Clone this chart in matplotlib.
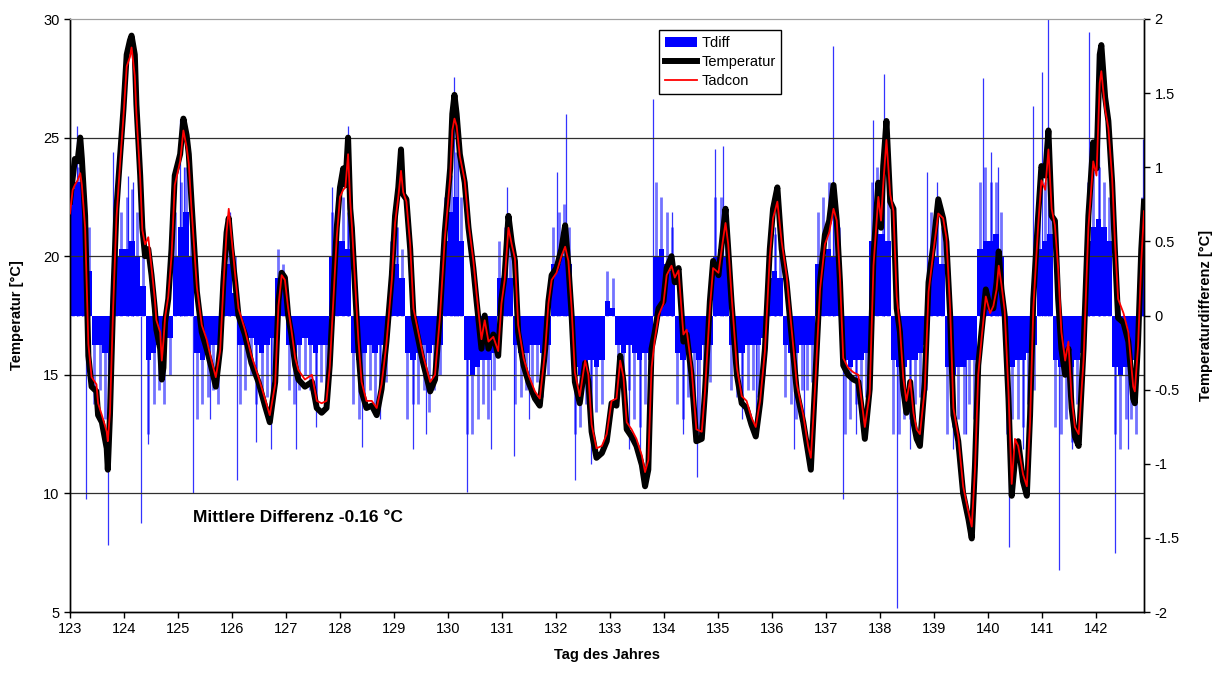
import matplotlib
matplotlib.use("Agg")
import matplotlib.pyplot as plt
from matplotlib.patches import Patch
from matplotlib.lines import Line2D

plt.rcParams['font.family'] = ['Liberation Sans', 'DejaVu Sans']
plt.rcParams['axes.unicode_minus'] = False

# Tag des Jahres / Temperatur (schwarz) / Tadcon (rot)
days = [123.00, 123.05, 123.09, 123.14, 123.19, 123.22, 123.28, 123.34, 123.40, 123.49,
        123.52, 123.59, 123.68, 123.70, 123.74, 123.80, 123.86, 123.93, 123.99, 124.05,
        124.11, 124.14, 124.20, 124.23, 124.30, 124.34, 124.39, 124.45, 124.51, 124.57,
        124.60, 124.67, 124.70, 124.73, 124.76, 124.82, 124.88, 124.94, 125.04, 125.10,
        125.16, 125.20, 125.25, 125.35, 125.44, 125.53, 125.62, 125.70, 125.78, 125.84,
        125.90, 125.94, 125.99, 126.06, 126.12, 126.24, 126.36, 126.49, 126.61, 126.70,
        126.80, 126.86, 126.92, 126.98, 127.04, 127.10, 127.17, 127.23, 127.35, 127.48,
        127.57, 127.66, 127.75, 127.81, 127.88, 127.94, 128.00, 128.06, 128.10, 128.15,
        128.19, 128.22, 128.28, 128.34, 128.40, 128.49, 128.59, 128.68, 128.77, 128.86,
        128.96, 129.02, 129.08, 129.13, 129.17, 129.23, 129.30, 129.36, 129.45, 129.54,
        129.67, 129.76, 129.85, 129.94, 130.04, 130.08, 130.12, 130.16, 130.22, 130.31,
        130.38, 130.47, 130.53, 130.62, 130.68, 130.75, 130.84, 130.93, 130.99, 131.05,
        131.12, 131.18, 131.24, 131.30, 131.40, 131.49, 131.61, 131.70, 131.80, 131.86,
        131.92, 132.01, 132.10, 132.17, 132.23, 132.29, 132.35, 132.44, 132.54, 132.60,
        132.66, 132.75, 132.85, 132.94, 133.03, 133.12, 133.19, 133.25, 133.31, 133.40,
        133.49, 133.59, 133.65, 133.71, 133.77, 133.83, 133.90, 133.99, 134.05, 134.14,
        134.20, 134.27, 134.36, 134.42, 134.51, 134.60, 134.70, 134.76, 134.85, 134.91,
        135.01, 135.10, 135.14, 135.19, 135.25, 135.35, 135.44, 135.53, 135.62, 135.70,
        135.78, 135.87, 135.96, 136.02, 136.10, 136.18, 136.27, 136.36, 136.46, 136.58,
        136.67, 136.72, 136.80, 136.89, 136.98, 137.06, 137.14, 137.20, 137.26, 137.32,
        137.41, 137.51, 137.60, 137.66, 137.72, 137.81, 137.88, 137.97, 138.02, 138.06,
        138.12, 138.19, 138.25, 138.31, 138.37, 138.43, 138.49, 138.56, 138.62, 138.68,
        138.74, 138.83, 138.90, 138.99, 139.08, 139.17, 139.23, 139.30, 139.36, 139.45,
        139.54, 139.64, 139.70, 139.76, 139.82, 139.88, 139.96, 140.04, 140.10, 140.16,
        140.20, 140.25, 140.31, 140.38, 140.44, 140.50, 140.56, 140.65, 140.72, 140.78,
        140.84, 140.93, 140.99, 141.06, 141.12, 141.18, 141.24, 141.30, 141.36, 141.43,
        141.49, 141.55, 141.61, 141.68, 141.77, 141.86, 141.95, 142.01, 142.07, 142.10,
        142.17, 142.23, 142.30, 142.35, 142.41, 142.51, 142.60, 142.69, 142.72, 142.78,
        142.84, 142.89]

temperatur = [22.3, 23.3, 24.1, 24.0, 25.0, 24.1, 21.7, 15.8, 14.5, 14.3,
              13.3, 13.0, 11.9, 11.0, 13.3, 18.2, 22.0, 24.3, 26.2, 28.5,
              29.1, 29.3, 28.5, 26.4, 23.4, 21.2, 20.0, 20.3, 19.2, 17.8,
              16.9, 16.1, 14.8, 15.3, 17.2, 18.2, 20.3, 23.4, 24.3, 25.8,
              25.1, 24.3, 22.3, 18.5, 16.8, 16.1, 15.3, 14.5, 16.1, 18.9,
              21.0, 21.6, 20.3, 18.9, 17.5, 16.7, 15.5, 14.7, 13.7, 13.0,
              14.7, 18.1, 19.3, 19.1, 17.5, 16.7, 15.4, 14.8, 14.5, 14.7,
              13.6, 13.4, 13.6, 15.4, 18.6, 21.2, 22.9, 23.7, 23.0, 25.0,
              22.0, 21.2, 18.6, 16.1, 14.3, 13.6, 13.7, 13.3, 14.4, 16.4,
              19.2, 21.7, 22.9, 24.5, 22.6, 22.4, 20.3, 17.5, 16.5, 15.5,
              14.3, 14.8, 17.5, 21.0, 23.7, 26.0, 26.8, 26.0, 24.3, 23.1,
              21.2, 19.5, 18.1, 16.1, 17.5, 16.1, 16.7, 15.8, 18.2, 19.2,
              21.7, 20.6, 19.8, 16.8, 15.4, 14.7, 14.0, 13.7, 16.1, 18.1,
              19.2, 19.5, 20.3, 21.3, 19.6, 17.5, 14.7, 13.8, 15.5, 14.7,
              12.6, 11.5, 11.7, 12.2, 13.8, 13.7, 15.8, 14.7, 12.7, 12.4,
              12.0, 11.2, 10.3, 11.0, 16.1, 16.8, 17.8, 18.1, 19.5, 20.0,
              18.9, 19.5, 16.4, 16.7, 15.0, 12.2, 12.3, 14.3, 18.1, 19.8,
              19.2, 21.2, 22.0, 20.3, 18.1, 15.0, 13.8, 13.6, 12.9, 12.4,
              13.8, 16.1, 20.3, 22.0, 22.9, 20.3, 18.9, 16.7, 14.3, 13.0,
              11.7, 11.0, 14.7, 18.9, 20.9, 21.5, 23.0, 21.5, 18.9, 15.4,
              15.0, 14.8, 14.7, 13.6, 12.3, 14.4, 20.0, 23.1, 21.2, 23.8,
              25.7, 22.3, 22.0, 17.8, 16.8, 14.4, 13.4, 14.7, 13.0, 12.3,
              12.0, 14.7, 18.9, 20.5, 22.4, 21.6, 20.6, 17.5, 13.3, 12.2,
              10.0, 8.9, 8.1, 11.2, 15.4, 16.8, 18.6, 17.8, 17.8, 18.9,
              20.2, 18.6, 17.5, 14.0, 9.9, 11.4, 12.2, 10.5, 9.9, 13.3,
              18.2, 21.7, 23.8, 23.4, 25.3, 21.7, 21.5, 18.2, 16.1, 15.0,
              16.1, 13.6, 12.4, 12.0, 16.1, 21.7, 24.8, 23.7, 28.5, 28.9,
              26.7, 25.7, 23.1, 20.3, 17.4, 17.2, 16.4, 14.0, 13.8, 16.4,
              20.3, 22.3]

tadcon = [21.8, 22.8, 23.0, 23.2, 23.5, 23.0, 21.2, 16.3, 14.9, 14.6,
          13.8, 13.3, 12.6, 12.2, 13.4, 17.9, 21.6, 24.0, 25.9, 28.0,
          28.4, 28.8, 27.6, 26.0, 23.3, 21.1, 20.5, 20.8, 19.5, 18.2,
          17.3, 16.8, 15.6, 16.4, 17.4, 18.3, 20.0, 23.0, 24.0, 25.3,
          24.6, 23.9, 22.0, 18.7, 17.1, 16.5, 15.6, 14.9, 16.0, 18.7,
          21.0, 22.0, 20.8, 19.2, 17.8, 16.9, 15.8, 14.9, 14.0, 13.3,
          14.6, 17.9, 19.2, 19.0, 17.8, 16.9, 15.7, 15.2, 14.8, 15.0,
          13.9, 13.8, 13.9, 15.3, 18.3, 20.8, 22.5, 22.8, 22.9, 24.3,
          22.3, 21.3, 18.9, 16.5, 14.7, 13.9, 13.9, 13.6, 14.6, 16.3,
          19.0, 21.4, 22.5, 23.6, 22.7, 22.3, 20.5, 17.8, 16.8, 15.8,
          14.7, 15.0, 17.4, 20.7, 23.3, 25.3, 25.8, 25.5, 24.2, 23.2,
          21.4, 19.8, 18.4, 16.5, 17.3, 16.4, 16.6, 16.0, 18.0, 19.0,
          21.2, 20.5, 19.9, 17.1, 15.7, 15.0, 14.3, 14.0, 16.0, 18.0,
          19.0, 19.3, 20.0, 20.4, 19.8, 17.8, 15.1, 14.1, 15.6, 15.0,
          12.9, 11.9, 12.0, 12.5, 13.9, 14.0, 15.6, 14.9, 13.0, 12.7,
          12.3, 11.6, 10.9, 11.4, 15.3, 16.5, 17.5, 18.0, 19.2, 19.6,
          19.1, 19.4, 16.7, 16.9, 15.3, 12.7, 12.6, 14.3, 17.8, 19.5,
          19.3, 20.8, 21.4, 20.5, 18.4, 15.3, 14.1, 13.9, 13.2, 12.8,
          13.9, 16.0, 20.0, 21.6, 22.3, 20.6, 19.2, 17.0, 14.6, 13.3,
          12.0, 11.5, 14.5, 18.6, 20.5, 21.0, 22.0, 21.5, 19.1, 15.7,
          15.3, 15.1, 15.0, 13.9, 12.8, 14.2, 19.6, 22.5, 21.5, 23.0,
          24.9, 22.6, 21.9, 18.3, 17.0, 14.9, 13.9, 14.8, 13.4, 12.7,
          12.5, 14.4, 18.5, 20.2, 21.8, 21.6, 20.8, 17.8, 13.6, 12.4,
          10.3, 9.2, 8.6, 11.0, 15.0, 16.5, 18.3, 17.6, 17.9, 18.6,
          19.6, 18.8, 17.7, 14.3, 10.4, 12.3, 12.0, 10.8, 10.3, 13.0,
          17.8, 21.3, 23.2, 22.8, 24.5, 22.0, 21.3, 19.5, 16.8, 15.6,
          16.4, 14.0, 12.8, 12.5, 15.6, 21.2, 24.0, 23.4, 27.3, 27.8,
          26.2, 25.4, 23.3, 20.7, 18.2, 17.6, 16.8, 14.5, 14.3, 16.2,
          19.8, 21.9]

# Tdiff: Grundniveau und Spitzen je 0.1 Tag (ab Tag 123.0)
tdiff_start = [123.0 + 0.1 * i for i in range(199)]
tdiff_base = [0.85, 0.9, 0.8, 0.3, -0.2, -0.2, -0.25, -0.3, 0.4, 0.45,
              0.45, 0.5, 0.4, 0.2, -0.3, -0.25, -0.2, -0.2, -0.15, 0.4,
              0.6, 0.7, 0.4, -0.25, -0.3, -0.25, -0.2, -0.2, 0.3, 0.35,
              0.15, -0.2, -0.2, -0.15, -0.2, -0.25, -0.2, -0.15, 0.25, 0.2,
              -0.2, -0.25, -0.2, -0.15, -0.2, -0.25, -0.2, -0.2, 0.4, 0.5,
              0.5, 0.45, -0.25, -0.3, -0.25, -0.2, -0.25, -0.2, -0.2, 0.3,
              0.35, 0.25, -0.25, -0.3, -0.25, -0.2, -0.25, -0.2, -0.2, 0.5,
              0.7, 0.8, 0.5, -0.3, -0.4, -0.35, -0.3, -0.3, -0.25, 0.25,
              0.3, 0.25, -0.2, -0.25, -0.25, -0.2, -0.2, -0.25, -0.2, 0.35,
              0.35, 0.4, 0.35, -0.35, -0.4, -0.35, -0.3, -0.35, -0.3, 0.1,
              0.05, -0.2, -0.25, -0.2, -0.25, -0.3, -0.25, -0.3, 0.4, 0.45,
              0.35, 0.3, -0.25, -0.3, -0.25, -0.25, -0.3, -0.2, -0.2, 0.4,
              0.45, 0.4, -0.2, -0.25, -0.25, -0.2, -0.2, -0.2, -0.15, 0.25,
              0.3, 0.25, -0.2, -0.25, -0.25, -0.2, -0.2, -0.2, 0.35, 0.4,
              0.45, 0.4, 0.3, -0.3, -0.35, -0.3, -0.3, -0.25, 0.5, 0.55,
              0.55, 0.5, -0.3, -0.35, -0.35, -0.3, -0.3, -0.25, -0.2, 0.35,
              0.4, 0.35, -0.35, -0.4, -0.35, -0.35, -0.3, -0.3, 0.45, 0.5,
              0.5, 0.55, 0.4, -0.3, -0.35, -0.3, -0.3, -0.25, -0.2, 0.45,
              0.5, 0.55, -0.3, -0.35, -0.3, -0.35, -0.3, -0.25, 0.5, 0.6,
              0.65, 0.6, 0.5, -0.35, -0.4, -0.35, -0.3, -0.35, 0.35]
tdiff_peak = [0.95, 1.0, 0.9, 0.6, -0.6, -0.5, -0.7, -0.8, 0.8, 0.7,
              0.8, 0.85, 0.7, 0.4, -0.8, -0.6, -0.5, -0.6, -0.4, 0.7,
              0.9, 1.0, 0.6, -0.7, -0.6, -0.55, -0.5, -0.6, 0.5, 0.6,
              0.4, -0.6, -0.5, -0.4, -0.6, -0.5, -0.55, -0.4, 0.45, 0.35,
              -0.5, -0.6, -0.5, -0.4, -0.5, -0.6, -0.45, -0.5, 0.7, 0.8,
              0.8, 0.7, -0.6, -0.7, -0.6, -0.5, -0.6, -0.5, -0.45, 0.5,
              0.6, 0.45, -0.7, -0.6, -0.6, -0.5, -0.65, -0.5, -0.4, 0.8,
              0.95, 1.1, 0.8, -0.8, -0.8, -0.7, -0.6, -0.7, -0.5, 0.5,
              0.6, 0.5, -0.6, -0.55, -0.5, -0.5, -0.45, -0.55, -0.4, 0.6,
              0.7, 0.75, 0.6, -0.8, -0.75, -0.6, -0.7, -0.65, -0.6, 0.3,
              0.25, -0.5, -0.6, -0.5, -0.7, -0.75, -0.6, -0.7, 0.9, 0.8,
              0.7, 0.6, -0.6, -0.7, -0.55, -0.6, -0.8, -0.5, -0.45, 0.8,
              0.8, 0.7, -0.5, -0.55, -0.6, -0.5, -0.5, -0.55, -0.4, 0.5,
              0.55, 0.45, -0.55, -0.6, -0.7, -0.5, -0.5, -0.45, 0.7, 0.8,
              0.9, 0.8, 0.6, -0.8, -0.7, -0.6, -0.65, -0.55, 0.9, 1.0,
              0.95, 0.8, -0.8, -0.8, -0.7, -0.7, -0.6, -0.55, -0.5, 0.7,
              0.7, 0.6, -0.8, -0.75, -0.7, -0.8, -0.6, -0.7, 0.9, 1.0,
              0.9, 0.9, 0.7, -0.8, -0.7, -0.7, -0.75, -0.6, -0.5, 0.8,
              0.9, 0.95, -0.75, -0.8, -0.7, -0.85, -0.6, -0.5, 0.9, 1.1,
              1.0, 0.9, 0.8, -0.8, -0.9, -0.7, -0.7, -0.8, 0.8]

# Tdiff: einzelne hohe Spitzen
spike_days = [123.13, 123.22, 123.80, 124.07, 124.16, 125.04, 125.12, 125.96, 127.85, 128.15,
              129.05, 130.11, 130.18, 131.09, 132.02, 132.19, 133.80, 134.15, 134.94, 135.09,
              136.05, 137.13, 137.87, 138.08, 138.87, 139.05, 139.90, 140.05, 140.19, 140.83,
              141.00, 141.11, 141.87, 142.05, 142.87,
              123.30, 123.70, 124.31, 124.45, 125.28, 125.60, 126.09, 126.45, 126.72, 127.19,
              127.55, 128.41, 128.75, 129.35, 129.60, 130.35, 130.80, 131.22, 131.50, 132.35,
              132.65, 133.35, 133.55, 134.35, 134.61, 135.45, 135.70, 136.40, 136.60, 137.31,
              137.55, 138.31, 138.55, 139.35, 139.60, 140.39, 140.65, 141.31, 141.55, 142.35,
              142.60]
spike_vals = [1.28, 1.0, 1.10, 0.94, 0.9, 1.32, 1.0, 0.70, 0.87, 1.28,
              0.6, 1.61, 1.1, 0.87, 0.97, 1.36, 1.46, 0.70, 1.12, 1.14,
              0.6, 1.82, 1.32, 1.63, 0.97, 0.9, 1.60, 1.1, 1.00, 1.41,
              1.64, 2.0, 1.91, 1.4, 1.19,
              -1.24, -1.55, -1.40, -0.87, -1.20, -0.7, -1.11, -0.85, -0.9, -0.90,
              -0.75, -0.89, -0.7, -0.9, -0.8, -1.19, -0.9, -0.95, -0.7, -1.11,
              -1.0, -0.9, -1.0, -0.8, -1.09, -0.7, -0.75, -0.9, -0.7, -1.24,
              -0.8, -1.97, -0.9, -0.9, -0.8, -1.56, -0.9, -1.72, -0.9, -1.60,
              -0.9]

day_ticks = list(range(123, 143))
left_ticks = [5, 10, 15, 20, 25, 30]
right_ticks = [-2, -1.5, -1, -0.5, 0, 0.5, 1, 1.5, 2]

fig = plt.figure(figsize=(12.22, 6.78), dpi=100)
ax = fig.add_axes([70 / 1222, 1 - 612 / 678, (1144 - 70) / 1222, (612 - 19) / 678])
ax2 = ax.twinx()
ax.set_zorder(ax2.get_zorder() + 1)
ax.patch.set_visible(False)

# Tdiff auf rechter Achse
ax2.bar(tdiff_start, tdiff_base, width=0.1, align='edge', color='#0000ff', linewidth=0)
peak_x = [d + 0.05 for d in tdiff_start]
ax2.vlines(peak_x, 0, tdiff_peak, color='#0000ff', lw=2.0, alpha=0.55)
ax2.vlines(spike_days, 0, spike_vals, color='#0000ff', lw=0.9, alpha=0.8)
ax2.set_ylim(-2, 2)
ax2.set_yticks(right_ticks)
ax2.set_yticklabels(['%g' % v for v in right_ticks], fontsize=10.5)
ax2.set_ylabel('Temperaturdifferenz [°C]', fontsize=10.5, fontweight='bold', labelpad=14)
ax2.yaxis.label.set_rotation(90)

# Gitter und Temperaturkurven
for v in left_ticks[1:-1]:
    ax.axhline(v, color='#303030', lw=0.9, zorder=1)
ax.plot(days, temperatur, color='black', lw=4.3, solid_joinstyle='round', zorder=3)
ax.plot(days, tadcon, color='#ff0000', lw=1.3, zorder=4)

ax.set_xlim(123, 142.89)
ax.set_ylim(5, 30)
ax.set_xticks(day_ticks)
ax.set_xticklabels([str(d) for d in day_ticks], fontsize=10.5)
ax.set_yticks(left_ticks)
ax.set_yticklabels([str(v) for v in left_ticks], fontsize=10.5)
ax.set_ylabel('Temperatur [°C]', fontsize=10.5, fontweight='bold', labelpad=14)
ax.set_xlabel('Tag des Jahres', fontsize=10.5, fontweight='bold', labelpad=8)

for a in (ax, ax2):
    a.tick_params(direction='out', length=4, width=1, colors='black')
    a.spines['top'].set_color('#a0a0a0')
    for s in ('left', 'right', 'bottom'):
        a.spines[s].set_linewidth(1.0)

ax.text(125.28, 9.0, 'Mittlere Differenz -0.16 °C', fontsize=12.5, fontweight='bold',
        ha='left', va='center')

handles = [Patch(facecolor='#0000ff', edgecolor='none'),
           Line2D([], [], color='black', lw=4.3),
           Line2D([], [], color='#ff0000', lw=1.3)]
leg = ax.legend(handles, ['Tdiff', 'Temperatur', 'Tadcon'], loc='upper left',
                bbox_to_anchor=(659 / 1222, 1 - 30 / 678), bbox_transform=fig.transFigure,
                fontsize=10.5, frameon=True, fancybox=False, framealpha=1,
                edgecolor='black', handlelength=2.2, handletextpad=0.3,
                labelspacing=0.35, borderpad=0.4, borderaxespad=0)
leg.get_frame().set_linewidth(1.0)

fig.savefig('out.png', dpi=100)
